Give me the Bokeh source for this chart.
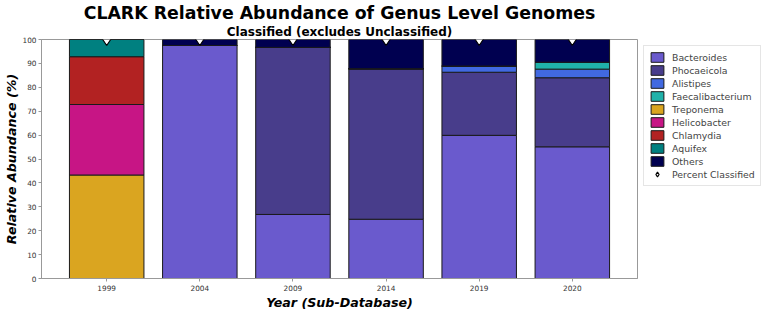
from bokeh.plotting import figure
from bokeh.models import ColumnDataSource, Legend, LegendItem, Title, FixedTicker, Range1d
from bokeh.embed import file_html
from bokeh.resources import INLINE

years = ["1999", "2004", "2009", "2014", "2019", "2020"]
genera = ["Bacteroides", "Phocaeicola", "Alistipes", "Faecalibacterium",
          "Treponema", "Helicobacter", "Chlamydia", "Aquifex", "Others"]
colors = ["#6A5ACD", "#483D8B", "#4169E1", "#20B2AA",
          "#DAA520", "#C71585", "#B22222", "#008080", "#000050"]

Bacteroides      = [0.0, 97.5, 26.8, 24.8, 59.9, 55.1]
Phocaeicola      = [0.0, 0.0, 69.9, 63.0, 26.4, 28.9]
Alistipes        = [0.0, 0.0, 0.0, 0.0, 2.6, 3.6]
Faecalibacterium = [0.0, 0.0, 0.0, 0.0, 0.0, 2.9]
Treponema        = [43.3, 0.0, 0.0, 0.0, 0.0, 0.0]
Helicobacter     = [29.5, 0.0, 0.0, 0.0, 0.0, 0.0]
Chlamydia        = [20.0, 0.0, 0.0, 0.0, 0.0, 0.0]
Aquifex          = [7.2, 0.0, 0.0, 0.0, 0.0, 0.0]
Others           = [0.0, 2.5, 3.3, 12.2, 11.1, 9.5]
percent_classified = [100, 100, 100, 100, 100, 100]

series = [Bacteroides, Phocaeicola, Alistipes, Faecalibacterium,
          Treponema, Helicobacter, Chlamydia, Aquifex, Others]

data = {"year": years, "pc": percent_classified}
for g, s in zip(genera, series):
    data[g] = s
src = ColumnDataSource(data)

p = figure(x_range=years, y_range=Range1d(0, 100), frame_width=596, frame_height=239,
           output_backend="svg", toolbar_location=None,
           min_border_left=0, min_border_right=0, min_border_top=0, min_border_bottom=0)
p.x_range.range_padding_units = "absolute"
p.x_range.range_padding = 0.2

renderers = p.vbar_stack(genera, x="year", width=0.8, source=src, color=colors,
                         line_color="#1a1a1a", line_width=1)

dia = p.scatter(x="year", y="pc", source=src, marker="diamond", size=12,
                fill_color="white", line_color="black", line_width=1.2)

items = [LegendItem(label=g, renderers=[r]) for g, r in zip(genera, renderers)]
items.append(LegendItem(label="Percent Classified", renderers=[dia]))
legend = Legend(items=items, location="top_left", label_text_font_size="7pt",
                label_text_font="DejaVu Sans", label_height=12, glyph_height=12,
                glyph_width=16, spacing=1, padding=5, margin=6,
                label_standoff=7, border_line_color="#cccccc",
                background_fill_alpha=1.0)
p.add_layout(legend, "right")

p.title.text = "CLARK Relative Abundance of Genus Level Genomes"
p.title.text_font = "DejaVu Sans"
p.title.text_font_style = "bold"
p.title.text_font_size = "13pt"
p.title.text_color = "black"
p.title.align = "center"
p.title.standoff = 0
p.title.offset = 0
p.add_layout(Title(text="Classified (excludes Unclassified)", text_color="black",
                   text_font="DejaVu Sans", text_font_style="bold",
                   text_font_size="9pt", align="center", standoff=1), "above")

p.yaxis.ticker = FixedTicker(ticks=[0, 10, 20, 30, 40, 50, 60, 70, 80, 90, 100])
p.yaxis.axis_label = "Relative Abundance (%)"
p.xaxis.axis_label = "Year (Sub-Database)"
for ax in (p.xaxis, p.yaxis):
    ax.axis_label_text_font = "DejaVu Sans"
    ax.axis_label_text_font_style = "bold italic"
    ax.axis_label_text_font_size = "9.5pt"
    ax.axis_label_text_color = "black"
    ax.major_label_text_font = "DejaVu Sans"
    ax.major_label_text_font_size = "5.5pt"
    ax.major_label_text_color = "#333333"
    ax.axis_line_color = "#999999"
    ax.major_tick_line_color = "#999999"
    ax.major_tick_in = 0
    ax.major_tick_out = 3
    ax.minor_tick_line_color = None
    ax.major_label_standoff = 2
    ax.axis_label_standoff = 1
p.xaxis.major_label_standoff = 3

p.grid.grid_line_color = None
p.outline_line_color = "#999999"
p.background_fill_color = "white"

open("out.html", "w").write(file_html(p, INLINE))
